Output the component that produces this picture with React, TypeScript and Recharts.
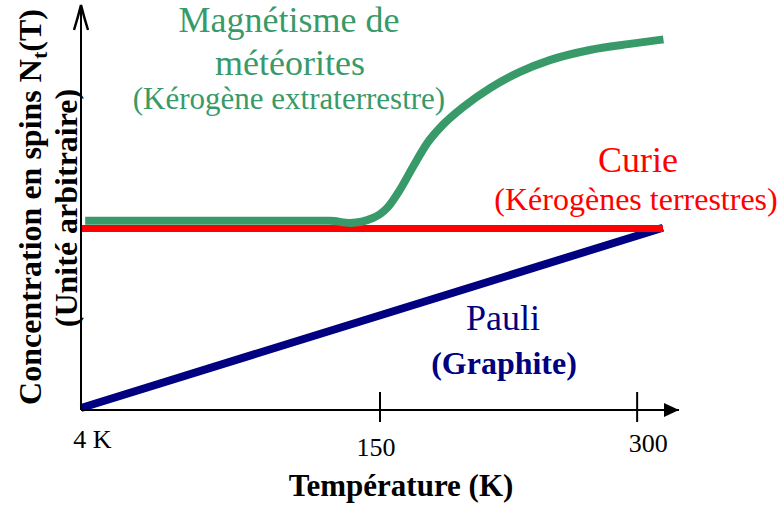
import React from "react";
import { LineChart, Line, XAxis, YAxis } from "recharts";

// schematic axis positions (0 = origin at 4 K, 100 = arrow tip)
const tickPositions = [0, 50, 93];
const tickLabels = ["4 K", "150", "300"];

const meteoriteX = [0.7, 41.6, 45, 48.8, 51.2, 53.3, 55.5, 57.9, 60.5, 63.9, 68.4, 73.4, 78.4, 85.1, 91.8, 97.4];
const meteoriteY = [46.7, 46.7, 46.2, 47.4, 49.9, 54.3, 60.0, 65.9, 70.4, 74.8, 79.5, 83.5, 86.4, 88.9, 90.4, 91.5];

const curieX = [0, 97.3];
const curieY = [44.8, 44.8];

const pauliX = [0, 97.3];
const pauliY = [0.5, 45];

const toPoints = (xs: number[], ys: number[]) => xs.map((x, i) => ({ x, y: ys[i] }));

const GREEN = "#389a69";
const RED = "#ff0000";
const NAVY = "#000080";
const FONT = "Liberation Serif, Times New Roman, serif";

// label offsets relative to the tick position (layout only)
const labelOffsets = [
    { dx: 11.5, dy: 38 },
    { dx: -4, dy: 46 },
    { dx: 11, dy: 42 },
];

const TempTick = (props: any) => {
    const { x, y, index } = props;
    const off = labelOffsets[index] || { dx: 0, dy: 40 };
    return (
        <g>
            {index > 0 && <line x1={x} x2={x} y1={y - 18} y2={y + 12} stroke="#000" strokeWidth={2} />}
            <text x={x + off.dx} y={y + off.dy} textAnchor="middle" style={{ fontFamily: FONT, fontSize: 26 }} fill="#000">
                {tickLabels[index]}
            </text>
        </g>
    );
};

const Note = ({ x, y, size, color, bold, children, rotate }: any) => (
    <text
        x={x}
        y={y}
        textAnchor="middle"
        fill={color}
        transform={rotate ? `rotate(-90, ${x}, ${y})` : undefined}
        style={{ fontFamily: FONT, fontSize: size, fontWeight: bold ? "bold" : "normal" }}
    >
        {children}
    </text>
);

export default function App() {
    return (
        <div style={{ position: "absolute", left: 0, top: 0, width: 780, height: 513, background: "#fff" }}>
            <LineChart width={780} height={513} margin={{ top: 5, right: 101, bottom: 73, left: 21 }}>
                <defs>
                    <marker id="arrowX" markerWidth={16} markerHeight={14} refX={15} refY={7} orient="auto" markerUnits="userSpaceOnUse">
                        <path d="M0,0 L15,7 L0,14 Z" fill="#000" />
                    </marker>
                    <marker id="arrowY" markerWidth={28} markerHeight={16} refX={26} refY={8} orient="auto-start-reverse" markerUnits="userSpaceOnUse">
                        <path d="M1,1 Q14,5 26,8 Q14,11 1,15" fill="none" stroke="#000" strokeWidth={2.5} />
                    </marker>
                </defs>
                <XAxis
                    type="number"
                    dataKey="x"
                    domain={[0, 100]}
                    ticks={tickPositions}
                    interval={0}
                    height={30}
                    tickSize={0}
                    tickMargin={0}
                    tickLine={false}
                    tick={<TempTick />}
                    axisLine={{ stroke: "#000", strokeWidth: 2, markerEnd: "url(#arrowX)" }}
                />
                <YAxis
                    type="number"
                    domain={[0, 100]}
                    width={60}
                    tick={false}
                    tickLine={false}
                    axisLine={{ stroke: "#000", strokeWidth: 2, markerStart: "url(#arrowY)" }}
                />
                <Line
                    data={toPoints(pauliX, pauliY)}
                    dataKey="y"
                    type="linear"
                    stroke={NAVY}
                    strokeWidth={8}
                    dot={false}
                    activeDot={false}
                    isAnimationActive={false}
                />
                <Line
                    data={toPoints(curieX, curieY)}
                    dataKey="y"
                    type="linear"
                    stroke={RED}
                    strokeWidth={7}
                    dot={false}
                    activeDot={false}
                    isAnimationActive={false}
                />
                <Line
                    data={toPoints(meteoriteX, meteoriteY)}
                    dataKey="y"
                    type="monotone"
                    stroke={GREEN}
                    strokeWidth={8}
                    dot={false}
                    activeDot={false}
                    isAnimationActive={false}
                />

                <Note x={289} y={32} size={36} color={GREEN}>Magnétisme de</Note>
                <Note x={290} y={75} size={36} color={GREEN}>météorites</Note>
                <Note x={289} y={109} size={31} color={GREEN}>(Kérogène extraterrestre)</Note>

                <Note x={638} y={172} size={36} color={RED}>Curie</Note>
                <Note x={636} y={210} size={32} color={RED}>(Kérogènes terrestres)</Note>

                <Note x={503} y={330} size={36} color={NAVY}>Pauli</Note>
                <Note x={504} y={374} size={32} color={NAVY} bold>(Graphite)</Note>

                <Note x={401} y={496} size={31} color="#000" bold>Température (K)</Note>

                <Note x={41} y={207} size={32} color="#000" bold rotate>
                    Concentration en spins N
                    <tspan style={{ fontSize: 22 }} dy={6}>t</tspan>
                    <tspan dy={-6}>(T)</tspan>
                </Note>
                <Note x={77} y={208} size={32} color="#000" bold rotate>
                    (Unité arbitraire)
                </Note>
            </LineChart>
        </div>
    );
}
